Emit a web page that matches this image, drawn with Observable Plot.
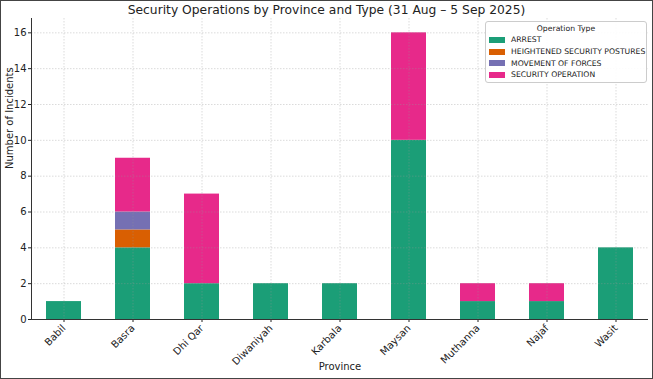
<!DOCTYPE html>
<html><head><meta charset="utf-8">
<script src="https://cdn.jsdelivr.net/npm/d3@7"></script>
<script src="https://cdn.jsdelivr.net/npm/@observablehq/plot@0.6"></script>
<style>
html,body{margin:0;padding:0;background:#fff;}
#wrap{position:relative;width:653px;height:379px;box-sizing:border-box;border:1.5px solid #444;overflow:hidden;font-family:"DejaVu Sans",sans-serif;}
#title{position:absolute;top:2px;left:0;width:100%;text-align:center;font-size:12.3px;color:#222;}
#legend{position:absolute;left:484px;top:20px;width:162px;height:62px;border:1px solid #ccc;border-radius:3px;background:rgba(255,255,255,0.9);font-size:7.7px;color:#222;box-sizing:border-box;white-space:nowrap;}
#legend .lt{text-align:center;margin-top:2px;margin-bottom:1px;}
#legend .it{display:flex;align-items:center;height:11.7px;padding-left:3px;}
#legend .sw{width:16px;height:6px;margin-right:6px;flex:none;}
#chart{position:absolute;left:0;top:0;}
</style></head>
<body><div id="wrap"><div id="chart"></div><div id="title"></div><div id="legend"></div></div>
<script>
const provinces = ["Babil","Basra","Dhi Qar","Diwaniyah","Karbala","Maysan","Muthanna","Najaf","Wasit"];
const types = ["ARREST","HEIGHTENED SECURITY POSTURES","MOVEMENT OF FORCES","SECURITY OPERATION"];
const colors = ["#1b9e77","#d95f02","#7570b3","#e7298a"];
const arrest = [1,4,2,2,2,10,1,1,4];
const heightened = [0,1,0,0,0,0,0,0,0];
const movement = [0,1,0,0,0,0,0,0,0];
const securityOp = [0,3,5,0,0,6,1,1,0];
const yTicks = [0,2,4,6,8,10,12,14,16];

const series = [arrest, heightened, movement, securityOp];
const data = [];
provinces.forEach((p,i)=>types.forEach((t,j)=>{ if(series[j][i]>0) data.push({province:p,type:t,value:series[j][i]}); }));

document.getElementById("title").textContent = "Security Operations by Province and Type (31 Aug – 5 Sep 2025)";
const lg = document.getElementById("legend");
lg.innerHTML = '<div class="lt">Operation Type</div>' + types.map((t,i)=>`<div class="it"><div class="sw" style="background:${colors[i]}"></div>${t}</div>`).join("");

const chart = Plot.plot({
  width: 650, height: 376,
  marginLeft: 30, marginRight: 3, marginTop: 17, marginBottom: 58,
  style: {fontFamily: "DejaVu Sans, sans-serif", fontSize: "10px", color: "#222", background: "transparent"},
  x: {domain: provinces, paddingInner: 0.5, paddingOuter: 0.22, label: null},
  y: {domain: [0,16.8], ticks: yTicks, label: null},
  color: {domain: types, range: colors},
  marks: [
    Plot.barY(data, Plot.stackY({x: "province", y: "value", fill: "type", order: types})),
    Plot.gridY(yTicks, {stroke: "#999", strokeOpacity: 0.35, strokeDasharray: "1.5,1.5"}),
    Plot.gridX(provinces, {stroke: "#999", strokeOpacity: 0.35, strokeDasharray: "1.5,1.5"}),
    Plot.axisX({tickRotate: -45, tickSize: 3, tickPadding: 4, label: null}),
    Plot.axisY({ticks: yTicks, tickSize: 3, tickPadding: 2, label: null}),
    Plot.ruleY([0], {stroke: "#333"}),
    Plot.frame({anchor: "left", stroke: "#333"}),
    Plot.text(["Province"], {frameAnchor: "bottom", dy: 50, fontSize: 10}),
    Plot.text(["Number of Incidents"], {frameAnchor: "left", dx: -22, rotate: -90, fontSize: 10})
  ]
});
document.getElementById("chart").appendChild(chart);
</script></body></html>
